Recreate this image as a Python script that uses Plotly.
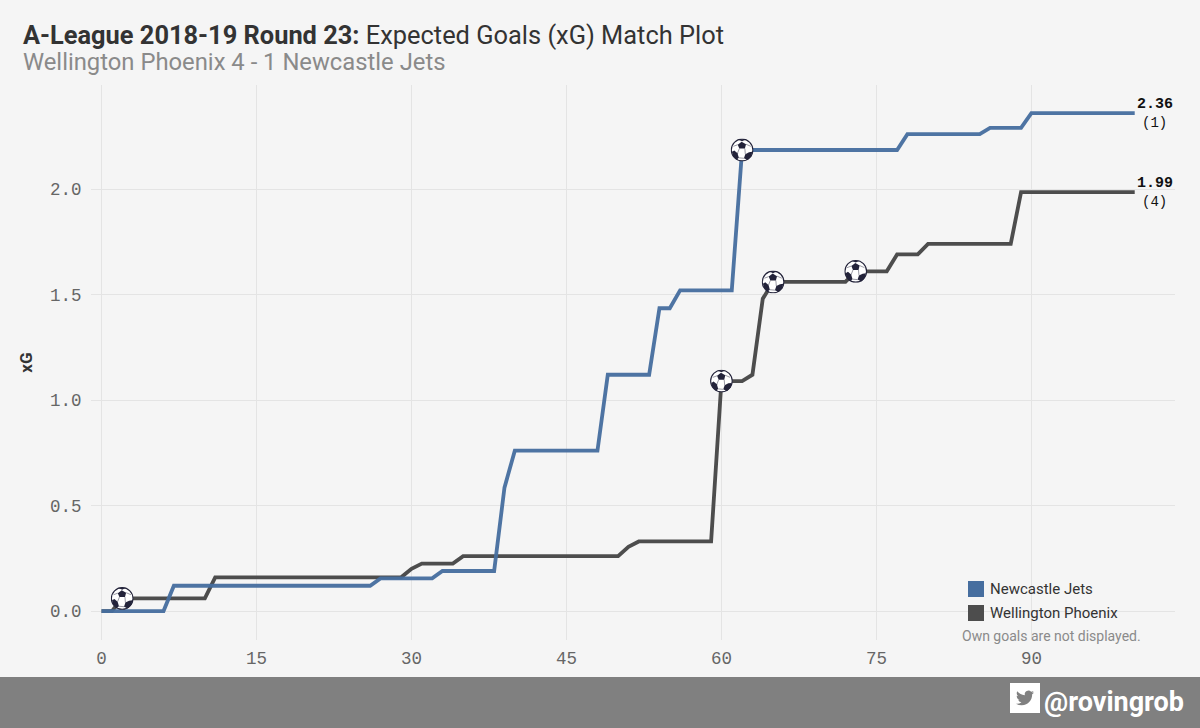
import base64
import plotly.graph_objects as go

# ---- data ----
newcastle_min = [0, 1, 6, 7, 26, 27, 32, 33, 38, 39, 40, 48, 49, 53, 54, 55, 56, 61, 62, 77, 78, 85, 86, 89, 90, 100]
newcastle_xg = [0, 0, 0, .12, .12, .155, .155, .19, .19, .585, .76, .76, 1.12, 1.12, 1.435, 1.435, 1.52, 1.52, 2.185,
                2.185, 2.26, 2.26, 2.29, 2.29, 2.36, 2.36]
wellington_min = [0, 1, 2, 10, 11, 29, 30, 31, 34, 35, 50, 51, 52, 59, 60, 62, 63, 64, 65, 72, 73, 76, 77, 79, 80, 88, 89, 100]
wellington_xg = [0, 0, .06, .06, .16, .16, .2, .225, .225, .26, .26, .305, .33, .33, 1.09, 1.09, 1.12, 1.48, 1.56,
                 1.56, 1.61, 1.61, 1.69, 1.69, 1.74, 1.74, 1.985, 1.985]
newcastle_goals = [62]
wellington_goals = [2, 60, 65, 73]
newcastle_name = "Newcastle Jets"
wellington_name = "Wellington Phoenix"
newcastle_total = "2.36"
wellington_total = "1.99"
newcastle_score = 1
wellington_score = 4
x_ticks = [0, 15, 30, 45, 60, 75, 90]
y_ticks = [0.0, 0.5, 1.0, 1.5, 2.0]

# ---- style ----
W, H = 1200, 728
L, R, T, B = 91, 1175, 85, 640
BLUE, GREY = "#466e9f", "#4d4d4d"
BG, FOOT = "#f5f5f5", "#808080"
MONO = "Liberation Mono"
SANS = "Roboto"
XR = [-1.02, 103.9]
YR = [-0.137, 2.493]


def px(v):
    return (v - L) / (R - L)


def py(v):
    return (B - v) / (B - T)


def uri(svg):
    return "data:image/svg+xml;base64," + base64.b64encode(svg.encode()).decode()


BALL = uri(
    '<svg xmlns="http://www.w3.org/2000/svg" viewBox="0 0 100 100" width="100" height="100">'
    '<circle cx="50" cy="50" r="47" fill="#fff" stroke="#23233a" stroke-width="5"/>'
    '<g fill="#23233a">'
    '<polygon points="48,14 67,25 62,44 38,44 31,27"/>'
    '<polygon points="94,58 90,78 74,94 58,86 64,68 80,60"/>'
    '<polygon points="6,58 10,76 26,92 36,84 30,64 16,52"/>'
    '<polygon points="32,4 66,4 50,12"/>'
    '</g>'
    '<g stroke="#23233a" stroke-width="2" fill="none">'
    '<path d="M38 44L30 64M62 44L64 68M36 84L58 86M67 25L88 34M31 27L12 34"/>'
    '</g></svg>')

BIRD = uri(
    '<svg xmlns="http://www.w3.org/2000/svg" viewBox="-8 -8 40 40" width="120" height="120">'
    '<rect x="-8" y="-8" width="40" height="40" fill="#fff"/>'
    '<path fill="#808080" d="M23.953 4.57a10 10 0 01-2.825.775 4.958 4.958 0 002.163-2.723c-.951.555-2.005.959-3.127 1.184'
    'a4.92 4.92 0 00-8.384 4.482C7.69 8.095 4.067 6.13 1.64 3.162a4.822 4.822 0 00-.666 2.475c0 1.71.87 3.213 2.188 4.096'
    'a4.904 4.904 0 01-2.228-.616v.06a4.923 4.923 0 003.946 4.827 4.996 4.996 0 01-2.212.085 4.936 4.936 0 004.604 3.417'
    ' 9.867 9.867 0 01-6.102 2.105c-.39 0-.779-.023-1.17-.067a13.995 13.995 0 007.557 2.209c9.053 0 13.998-7.496 13.998-13.985'
    ' 0-.21 0-.42-.015-.63A9.935 9.935 0 0024 4.59z"/></svg>')

fig = go.Figure()
fig.add_trace(go.Scatter(x=wellington_min, y=wellington_xg, mode="lines", name=wellington_name,
                         line=dict(color=GREY, width=3.8), showlegend=False))
fig.add_trace(go.Scatter(x=newcastle_min, y=newcastle_xg, mode="lines", name=newcastle_name, opacity=0.95,
                         line=dict(color=BLUE, width=3.8), showlegend=False))

images = []
xscale = (XR[1] - XR[0]) / (R - L)
yscale = (YR[1] - YR[0]) / (B - T)
for mins, vals, goals in [(wellington_min, wellington_xg, wellington_goals),
                          (newcastle_min, newcastle_xg, newcastle_goals)]:
    for g in goals:
        images.append(dict(source=BALL, xref="x", yref="y", x=g, y=vals[mins.index(g)],
                           sizex=23 * xscale, sizey=23 * yscale, xanchor="center", yanchor="middle",
                           sizing="stretch", layer="above"))
images.append(dict(source=BIRD, xref="paper", yref="paper", x=px(1010), y=py(683), sizex=30 / (R - L),
                   sizey=30 / (B - T), xanchor="left", yanchor="top", sizing="stretch", layer="above"))

shapes = [
    dict(type="rect", xref="paper", yref="paper", x0=px(0), x1=px(W), y0=py(677), y1=py(H + 2),
         fillcolor=FOOT, line_width=0, layer="below"),
    dict(type="rect", xref="paper", yref="paper", x0=px(968), x1=px(984), y0=py(581), y1=py(597),
         fillcolor=BLUE, line_width=0),
    dict(type="rect", xref="paper", yref="paper", x0=px(968), x1=px(984), y0=py(605), y1=py(621),
         fillcolor=GREY, line_width=0),
]


def txt(x, y, text, size, color, family=SANS, anchor="left"):
    return dict(xref="paper", yref="paper", x=px(x), y=py(y), text=text, showarrow=False, xanchor=anchor,
                yanchor="middle", font=dict(size=size, color=color, family=family), align=anchor)


annotations = [
    txt(21, 35, "<b>A-League 2018-19 Round 23:</b> Expected Goals (xG) Match Plot", 25.4, "#333333"),
    txt(21, 62, f"{wellington_name} {wellington_score} - {newcastle_score} {newcastle_name}", 23.8, "#8a8a8a"),
    txt(988, 589, newcastle_name, 15, "#333333"),
    txt(988, 613, wellington_name, 15, "#333333"),
    txt(1051, 636, "Own goals are not displayed.", 14, "#8a8a8a", anchor="center"),
    txt(1042, 702, "<b>@rovingrob</b>", 27, "#ffffff"),
]
for vals, total, score in [(newcastle_xg, newcastle_total, newcastle_score),
                           (wellington_xg, wellington_total, wellington_score)]:
    annotations.append(dict(xref="x", yref="y", x=100, y=vals[-1], xshift=20, yshift=9, xanchor="center",
                            yanchor="middle", showarrow=False, text=f"<b>{total}</b>",
                            font=dict(size=15, color="#111111", family=MONO)))
    annotations.append(dict(xref="x", yref="y", x=100, y=vals[-1], xshift=20, yshift=-10, xanchor="center",
                            yanchor="middle", showarrow=False, text=f"({score})",
                            font=dict(size=14, color="#111111", family=MONO)))

fig.update_layout(
    width=W, height=H, autosize=False,
    margin=dict(l=L, r=W - R, t=T, b=H - B, pad=0),
    paper_bgcolor=BG, plot_bgcolor=BG, showlegend=False,
    shapes=shapes, images=images, annotations=annotations,
    xaxis=dict(range=XR, tickvals=x_ticks, ticktext=[str(v) for v in x_ticks], showgrid=True, gridcolor="#e4e4e4",
               gridwidth=1, zeroline=False, showline=False, ticks="outside", ticklen=2, tickcolor="rgba(0,0,0,0)",
               tickfont=dict(family=MONO, size=17.5, color="#666666")),
    yaxis=dict(range=YR, tickvals=y_ticks, ticktext=[f"{v:.1f}" for v in y_ticks],
               showgrid=True, gridcolor="#e4e4e4", gridwidth=1, zeroline=False, showline=False, ticks="outside",
               ticklen=5, tickcolor="rgba(0,0,0,0)", tickfont=dict(family=MONO, size=17.5, color="#666666"),
               title=dict(text="<b>xG</b>", font=dict(family=SANS, size=17, color="#333333"), standoff=13)),
)
fig.write_html("out.html", config=dict(displayModeBar=False),
               post_script="document.body.style.margin='0';document.body.style.overflow='hidden';"
                           "document.body.style.background='#f5f5f5';")
